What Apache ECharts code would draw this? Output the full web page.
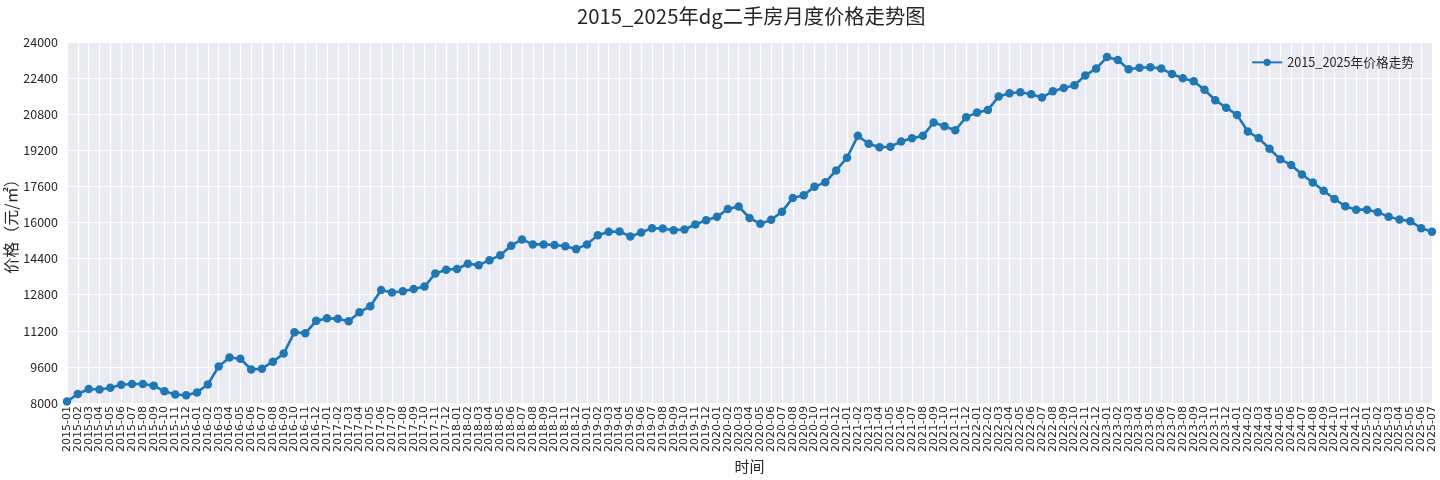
<!DOCTYPE html>
<html>
<head>
<meta charset="utf-8">
<script src="https://cdn.jsdelivr.net/npm/echarts@6/dist/echarts.min.js"></script>
<style>
html,body{margin:0;padding:0;background:#fff;}
#chart{width:1440px;height:480px;}
</style>
</head>
<body>
<div id="chart"></div>
<script>
const chartTitle = '2015_2025年dg二手房月度价格走势图';
const seriesName = '2015_2025年价格走势';
const months = [];
for (let y = 2015; y <= 2025; y++) {
  for (let m = 1; m <= 12; m++) {
    if (y === 2025 && m > 7) break;
    months.push(y + '-' + (m < 10 ? '0' + m : '' + m));
  }
}
const prices2015 = [8070, 8400, 8620, 8600, 8680, 8810, 8840, 8840, 8770, 8520, 8380, 8340];
const prices2016 = [8470, 8820, 9620, 10020, 9960, 9490, 9520, 9830, 10190, 11140, 11090, 11640];
const prices2017 = [11760, 11730, 11620, 12020, 12290, 13010, 12900, 12950, 13050, 13160, 13740, 13910];
const prices2018 = [13940, 14170, 14110, 14330, 14550, 14970, 15250, 15030, 15030, 15000, 14950, 14820];
const prices2019 = [15030, 15440, 15590, 15600, 15380, 15560, 15750, 15730, 15660, 15690, 15910, 16100];
const prices2020 = [16250, 16600, 16710, 16200, 15940, 16120, 16480, 17090, 17210, 17590, 17780, 18310];
const prices2021 = [18870, 19840, 19490, 19340, 19360, 19590, 19730, 19840, 20430, 20270, 20090, 20670];
const prices2022 = [20870, 20990, 21580, 21730, 21770, 21680, 21540, 21820, 21960, 22080, 22520, 22820];
const prices2023 = [23330, 23200, 22790, 22860, 22880, 22830, 22580, 22390, 22260, 21880, 21420, 21090];
const prices2024 = [20770, 20030, 19740, 19270, 18800, 18550, 18130, 17770, 17410, 17040, 16720, 16570];
const prices2025 = [16570, 16450, 16260, 16130, 16060, 15750, 15590];
const prices = [].concat(prices2015, prices2016, prices2017, prices2018, prices2019,
  prices2020, prices2021, prices2022, prices2023, prices2024, prices2025);
const yMin = 8000, yMax = 24000, yStep = 1600;

const FONT = '"Noto Sans CJK SC", "DejaVu Sans", sans-serif';
const TXT = '#262626';
const chart = echarts.init(document.getElementById('chart'), null, {renderer: 'canvas'});
chart.setOption({
  animation: false,
  backgroundColor: '#ffffff',
  textStyle: {fontFamily: FONT, color: TXT},
  title: {
    text: chartTitle,
    left: 572,
    top: 1,
    textStyle: {fontSize: 20.3, fontWeight: 'normal', color: TXT, fontFamily: FONT}
  },
  legend: {
    right: 21,
    top: 51,
    itemWidth: 30,
    itemHeight: 9,
    itemGap: 9,
    textStyle: {fontSize: 12.7, color: TXT, fontFamily: FONT},
    data: [seriesName]
  },
  grid: {
    left: 67, right: 8, top: 42, bottom: 77,
    show: true, backgroundColor: '#EAEAF2', borderWidth: 0,
    containLabel: false,
    outerBoundsMode: 'none'
  },
  xAxis: {
    type: 'category',
    data: months,
    boundaryGap: false,
    name: '时间',
    nameLocation: 'middle',
    nameGap: 56,
    nameMoveOverlap: false,
    nameTextStyle: {fontSize: 15, color: TXT, fontFamily: FONT},
    axisLine: {show: false},
    axisTick: {show: false},
    axisLabel: {interval: 0, rotate: 90, fontSize: 11, color: TXT, margin: 3, fontFamily: '"DejaVu Sans", sans-serif'},
    splitLine: {show: true, interval: 0, lineStyle: {color: '#ffffff', width: 1.2}}
  },
  yAxis: {
    type: 'value',
    min: yMin, max: yMax, interval: yStep,
    name: '价格（元/㎡）',
    nameLocation: 'middle',
    nameRotate: 90,
    nameGap: 48,
    nameMoveOverlap: false,
    nameTextStyle: {fontSize: 16, color: TXT, fontFamily: FONT},
    axisLine: {show: false},
    axisTick: {show: false},
    axisLabel: {fontSize: 12.5, color: TXT, margin: 9, fontFamily: FONT, formatter: function (v) { return String(v); }},
    splitLine: {show: true, lineStyle: {color: '#ffffff', width: 1.2}}
  },
  series: [{
    name: seriesName,
    type: 'line',
    data: prices,
    symbol: 'circle',
    symbolSize: 8.5,
    showSymbol: true,
    clip: true,
    lineStyle: {color: '#1f77b4', width: 2.6},
    itemStyle: {color: '#1f77b4'}
  }]
});
</script>
</body>
</html>
